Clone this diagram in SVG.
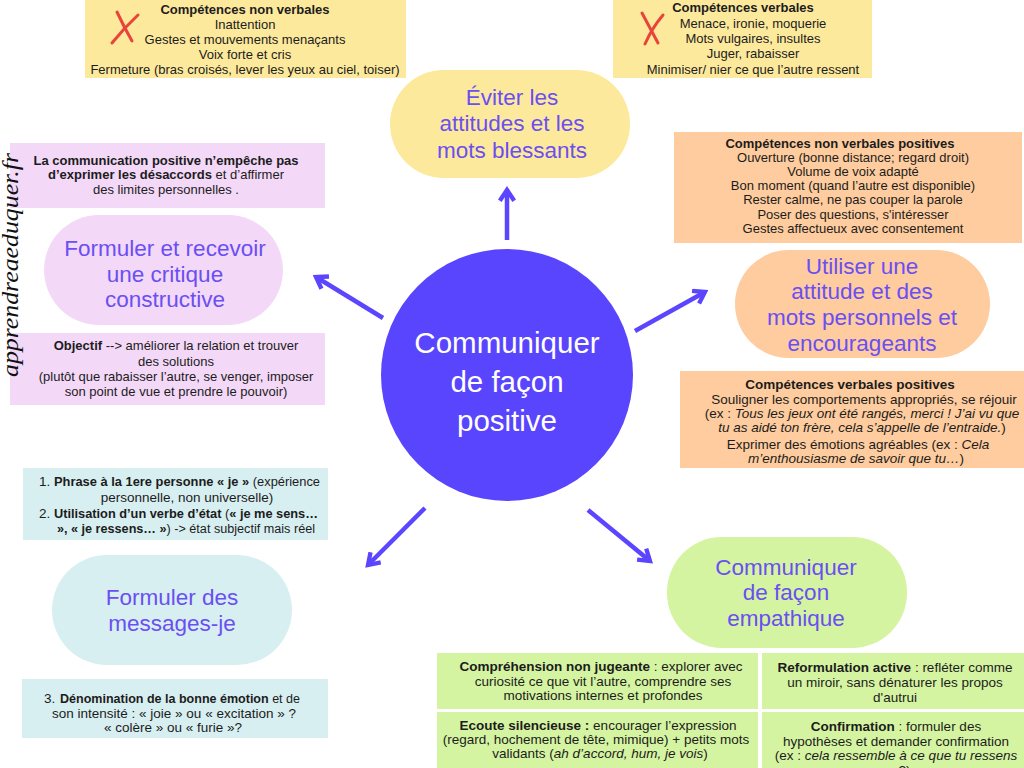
<svg xmlns="http://www.w3.org/2000/svg" width="1024" height="768" viewBox="0 0 1024 768">
<style>
.t{font-family:"Liberation Sans",Arial,sans-serif;font-size:13px;fill:#1c1c1c;text-anchor:middle}
.l{font-size:13.5px}
.m{font-size:12.5px}
.s{text-anchor:start}
.b{font-weight:bold}
.i{font-style:italic}
.n{font-family:"Liberation Sans",Arial,sans-serif;font-size:22.5px;fill:#6a4ff2;text-anchor:middle}
.c{font-family:"Liberation Sans",Arial,sans-serif;font-size:29.5px;fill:#ffffff;text-anchor:middle}
.arrow{stroke:#5b45ff;stroke-width:4.5;fill:none;marker-end:url(#ah)}
.x{stroke:#e8443a;stroke-width:3;fill:none;stroke-linecap:round}
.yel{fill:#fde99c}.pink{fill:#f3d8f7}.org{fill:#fecc9e}.blue{fill:#d8eff1}.grn{fill:#d5f4a2}
</style>
<defs>
<marker id="ah" viewBox="0 0 10 10" markerWidth="4" markerHeight="4" refX="8" refY="5" orient="auto" markerUnits="strokeWidth">
<path d="M2,1 L8,5 L2,9" fill="none" stroke="#5b45ff" stroke-width="2.4" stroke-linejoin="miter"/>
</marker>
</defs>
<rect width="1024" height="768" fill="#ffffff"/>

<g id="box-nonverbal-neg">
<rect class="yel" x="85" y="0" width="321" height="78"/>
<path class="x" d="M117,12 Q124,27 132,41"/>
<path class="x" d="M138,15 Q124,28 112,43"/>
<text class="t b" x="245" y="14">Compétences non verbales</text>
<text class="t" x="245" y="29">Inattention</text>
<text class="t" x="245" y="44">Gestes et mouvements menaçants</text>
<text class="t" x="245" y="59">Voix forte et cris</text>
<text class="t" x="245" y="74">Fermeture (bras croisés, lever les yeux au ciel, toiser)</text>
</g>

<g id="box-verbal-neg">
<rect class="yel" x="613" y="0" width="259" height="78"/>
<path class="x" d="M642,13 Q650,28 658,43"/>
<path class="x" d="M663,15 Q652,28 645,44"/>
<text class="t b" x="743" y="12">Compétences verbales</text>
<text class="t" x="753" y="28">Menace, ironie, moquerie</text>
<text class="t" x="753" y="43">Mots vulgaires, insultes</text>
<text class="t" x="753" y="58">Juger, rabaisser</text>
<text class="t" x="753" y="74">Minimiser/ nier ce que l’autre ressent</text>
</g>

<g id="box-critique-1">
<rect class="pink" x="10" y="143" width="315" height="65"/>
<text class="t b" x="166" y="165">La communication positive n’empêche pas</text>
<text class="t" x="166" y="179"><tspan class="b">d’exprimer les désaccords</tspan> et d’affirmer</text>
<text class="t" x="166" y="194">des limites personnelles .</text>
</g>

<g id="box-critique-2">
<rect class="pink" x="10" y="333" width="315" height="72"/>
<text class="t" x="176" y="350"><tspan class="b">Objectif</tspan> --&gt; améliorer la relation et trouver</text>
<text class="t" x="176" y="366">des solutions</text>
<text class="t" x="176" y="381">(plutôt que rabaisser l’autre, se venger, imposer</text>
<text class="t" x="176" y="396">son point de vue et prendre le pouvoir)</text>
</g>

<g id="box-nonverbal-pos">
<rect class="org" x="674" y="132" width="348" height="111"/>
<text class="t b" x="840" y="148">Compétences non verbales positives</text>
<text class="t" x="853" y="162">Ouverture (bonne distance; regard droit)</text>
<text class="t" x="853" y="176">Volume de voix adapté</text>
<text class="t" x="853" y="190">Bon moment (quand l’autre est disponible)</text>
<text class="t" x="853" y="204">Rester calme, ne pas couper la parole</text>
<text class="t" x="853" y="219">Poser des questions, s'intéresser</text>
<text class="t" x="853" y="233">Gestes affectueux avec consentement</text>
</g>

<g id="box-verbal-pos">
<rect class="org" x="680" y="371" width="344" height="97"/>
<text class="t b l" x="850" y="389">Compétences verbales positives</text>
<text class="t l" x="864" y="404">Souligner les comportements appropriés, se réjouir</text>
<text class="t l" x="862" y="418">(ex : <tspan class="i">Tous les jeux ont été rangés, merci ! J’ai vu que</tspan></text>
<text class="t l" x="862" y="432"><tspan class="i">tu as aidé ton frère, cela s’appelle de l’entraide.</tspan>)</text>
<text class="t l" x="858" y="449">Exprimer des émotions agréables (ex :  <tspan class="i">Cela</tspan></text>
<text class="t l" x="856" y="463"><tspan class="i">m’enthousiasme de savoir que tu…</tspan>)</text>
</g>

<g id="box-je-1">
<rect class="blue" x="23" y="468" width="305" height="72"/>
<text class="t l s" x="39" y="486">1.</text>
<text class="t m s" x="54" y="486" textLength="266" lengthAdjust="spacingAndGlyphs"><tspan class="b">Phrase à la 1ere personne « je »</tspan> (expérience</text>
<text class="t l" x="187" y="502">personnelle, non universelle)</text>
<text class="t l s" x="39" y="518">2.</text>
<text class="t m s" x="54" y="518" textLength="264" lengthAdjust="spacingAndGlyphs"><tspan class="b">Utilisation d’un verbe d’état</tspan> (<tspan class="b">« je me sens…</tspan></text>
<text class="t m s" x="57" y="533" textLength="258" lengthAdjust="spacingAndGlyphs"><tspan class="b">», « je ressens… »</tspan>) -&gt; état subjectif mais réel</text>
</g>

<g id="box-je-2">
<rect class="blue" x="22" y="679" width="306" height="59"/>
<text class="t l s" x="44" y="703">3.</text>
<text class="t m s" x="60" y="703" textLength="240" lengthAdjust="spacingAndGlyphs"><tspan class="b">Dénomination de la bonne émotion</tspan> et de</text>
<text class="t l" x="174" y="718">son intensité : « joie » ou « excitation » ?</text>
<text class="t l" x="173" y="732">« colère » ou « furie »?</text>
</g>

<g id="box-empathie-1">
<rect class="grn" x="437" y="653" width="321" height="56"/>
<text class="t l" x="601" y="671"><tspan class="b">Compréhension non jugeante</tspan> : explorer avec</text>
<text class="t l" x="603" y="686">curiosité ce que vit l’autre,  comprendre ses</text>
<text class="t l" x="603" y="700">motivations internes et profondes</text>
</g>

<g id="box-empathie-2">
<rect class="grn" x="437" y="712" width="321" height="56"/>
<text class="t l" x="598" y="730"><tspan class="b">Ecoute silencieuse :</tspan> encourager l’expression</text>
<text class="t l" x="596" y="744">(regard, hochement de tête, mimique) + petits mots</text>
<text class="t l" x="600" y="758">validants (<tspan class="i">ah d’accord, hum, je vois</tspan>)</text>
</g>

<g id="box-empathie-3">
<rect class="grn" x="762" y="653" width="262" height="56"/>
<text class="t l" x="895" y="672"><tspan class="b">Reformulation active</tspan> : refléter comme</text>
<text class="t l" x="895" y="687">un miroir, sans dénaturer les propos</text>
<text class="t l" x="895" y="702">d'autrui</text>
</g>

<g id="box-empathie-4">
<rect class="grn" x="762" y="712" width="262" height="56"/>
<text class="t l" x="896" y="731"><tspan class="b">Confirmation</tspan> : formuler des</text>
<text class="t l" x="896" y="746">hypothèses et demander confirmation</text>
<text class="t l" x="896" y="760">(ex : <tspan class="i">cela ressemble à ce que tu ressens</tspan></text>
<text class="t l" x="896" y="775"><tspan class="i">…</tspan> ?)</text>
</g>

<g id="connectors">
<path class="arrow" d="M507,240 L507,190"/>
<path class="arrow" d="M383,318 L316,277"/>
<path class="arrow" d="M635,331 L705,292"/>
<path class="arrow" d="M425,508 L368,565"/>
<path class="arrow" d="M588,510 L650,561"/>
</g>

<g id="node-center">
<circle cx="507" cy="375" r="126" fill="#5a45fe"/>
<text class="c" x="507" y="353">Communiquer</text>
<text class="c" x="507" y="392">de façon</text>
<text class="c" x="507" y="431">positive</text>
</g>

<g id="node-eviter">
<rect class="yel" x="390" y="70" width="240" height="108" rx="54"/>
<text class="n" x="512" y="105">Éviter les</text>
<text class="n" x="512" y="131">attitudes et les</text>
<text class="n" x="512" y="158">mots blessants</text>
</g>

<g id="node-critique">
<rect class="pink" x="44" y="215" width="239" height="110" rx="55"/>
<text class="n" x="165" y="256">Formuler et recevoir</text>
<text class="n" x="165" y="282">une critique</text>
<text class="n" x="165" y="307">constructive</text>
</g>

<g id="node-utiliser">
<rect class="org" x="735" y="250" width="255" height="108" rx="54"/>
<text class="n" x="862" y="274">Utiliser une</text>
<text class="n" x="862" y="299">attitude et des</text>
<text class="n" x="862" y="325">mots personnels et</text>
<text class="n" x="862" y="351">encourageants</text>
</g>

<g id="node-messages-je">
<rect class="blue" x="52" y="555" width="240" height="110" rx="55"/>
<text class="n" x="172" y="605">Formuler des</text>
<text class="n" x="172" y="631">messages-je</text>
</g>

<g id="node-empathique">
<rect class="grn" x="667" y="537" width="240" height="111" rx="55"/>
<text class="n" x="786" y="575">Communiquer</text>
<text class="n" x="786" y="600">de façon</text>
<text class="n" x="786" y="626">empathique</text>
</g>

<text x="0" y="0" transform="translate(18,377) rotate(-90)" font-family="'Liberation Serif',serif" font-style="italic" font-size="23" fill="#111111" textLength="224" lengthAdjust="spacingAndGlyphs">apprendreaeduquer.fr</text>
</svg>
